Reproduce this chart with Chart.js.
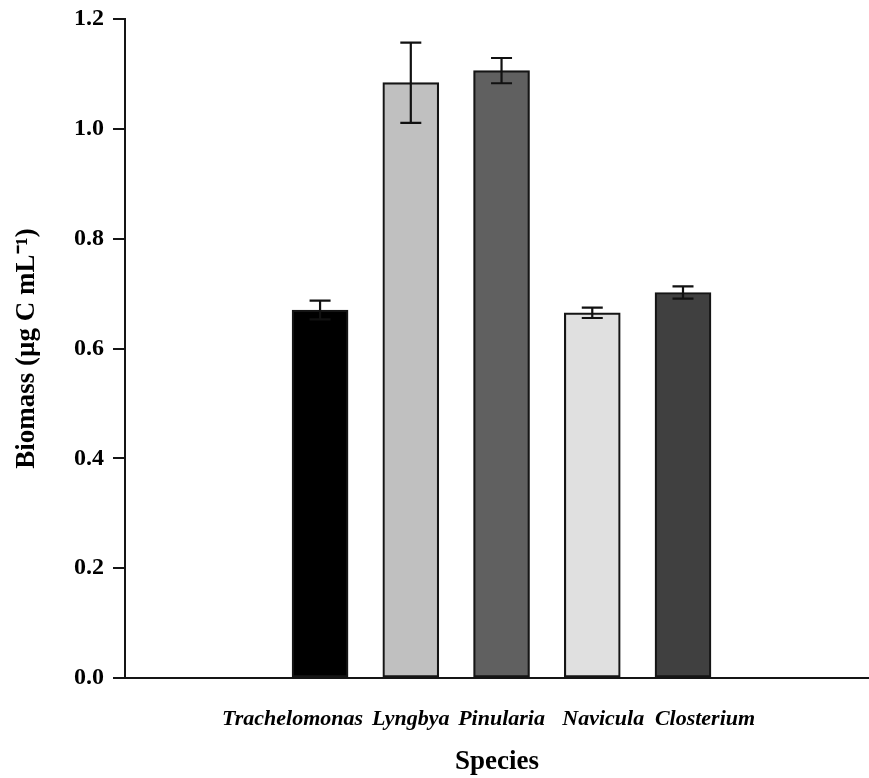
<!DOCTYPE html>
<html>
<head>
<meta charset="utf-8">
<script src="https://cdn.jsdelivr.net/npm/chart.js@4"></script>
<style>
  html, body { margin: 0; padding: 0; background: #fff; }
  #wrap { width: 869px; height: 778px; }
</style>
</head>
<body>
<div id="wrap"><canvas id="biomassChart" width="869" height="778"></canvas></div>
<script>
// species biomass, mean ± error
const SPECIES = ['Trachelomonas', 'Lyngbya', 'Pinularia', 'Navicula', 'Closterium'];
const BIOMASS = [0.670, 1.084, 1.106, 0.665, 0.702];
const ERRORS  = [0.017, 0.073, 0.023, 0.0095, 0.011];
const SLOTS   = [1, 2, 3, 4, 5];
const BAR_COLORS = ['#000000', '#c0c0c0', '#606060', '#e0e0e0', '#404040'];
const Y_TICKS = [0, 0.2, 0.4, 0.6, 0.8, 1.0, 1.2];

Chart.defaults.font.family = "'Liberation Serif', 'Times New Roman', serif";
Chart.defaults.color = '#000';

const EN = '\u2002';
// nudge the species names so they sit like the original row of labels
function speciesLabel(i) {
  const name = SPECIES[i];
  if (i === 0) return name + EN.repeat(5);
  if (i === 3) return EN.repeat(2) + name;
  if (i === 4) return EN.repeat(4) + name;
  return name;
}

// error bars with caps, drawn after the bars
const errorBarPlugin = {
  id: 'errorBars',
  afterDatasetsDraw(chart) {
    const { ctx: c, scales: { x, y } } = chart;
    c.save();
    c.strokeStyle = '#111';
    c.lineWidth = 2.2;
    SLOTS.forEach((s, i) => {
      const px = x.getPixelForValue(s);
      const top = y.getPixelForValue(BIOMASS[i] + ERRORS[i]);
      const bot = y.getPixelForValue(BIOMASS[i] - ERRORS[i]);
      c.beginPath();
      c.moveTo(px, top); c.lineTo(px, bot);
      c.moveTo(px - 10.5, top); c.lineTo(px + 10.5, top);
      c.moveTo(px - 10.5, bot); c.lineTo(px + 10.5, bot);
      c.stroke();
    });
    c.restore();
  }
};

new Chart(document.getElementById('biomassChart'), {
  type: 'bar',
  data: {
    datasets: [{
      data: SLOTS.map((s, i) => ({ x: s, y: BIOMASS[i] })),
      backgroundColor: BAR_COLORS,
      borderColor: '#151515',
      borderWidth: 2.2,
      borderSkipped: false,
      barThickness: 56,
    }]
  },
  plugins: [errorBarPlugin],
  options: {
    responsive: false,
    animation: false,
    layout: { padding: { top: 19, left: 0, right: 0, bottom: 0 } },
    plugins: { legend: { display: false }, tooltip: { enabled: false } },
    scales: {
      x: {
        type: 'linear',
        min: -1.15,
        max: 7.05,
        offset: false,
        afterFit: s => { s.height = 100; },
        afterBuildTicks: s => { s.ticks = SLOTS.map(v => ({ value: v })); },
        grid: { display: false, drawTicks: false },
        border: { display: true, color: '#151515', width: 2 },
        ticks: {
          autoSkip: false,
          maxRotation: 0,
          minRotation: 0,
          padding: 28,
          font: { size: 22, style: 'italic', weight: 'bold' },
          callback: (v, i) => speciesLabel(i)
        },
        title: {
          display: true,
          text: 'Species',
          font: { size: 27, weight: 'bold' },
          padding: { top: 0, bottom: 0 }
        }
      },
      y: {
        min: 0,
        max: 1.2,
        afterFit: s => { s.width = 125; s.paddingTop = 0; s.paddingBottom = 0; },
        afterBuildTicks: s => { s.ticks = Y_TICKS.map(v => ({ value: v })); },
        grid: { display: true, drawOnChartArea: false, drawTicks: true, tickLength: 12, color: '#151515', lineWidth: 2 },
        border: { display: true, color: '#151515', width: 2 },
        ticks: {
          padding: 9,
          font: { size: 24, weight: 'bold' },
          callback: v => v.toFixed(1)
        },
        title: {
          display: true,
          text: 'Biomass (µg C mL\u207B\u00B9)',
          font: { size: 27, weight: 'bold' },
          padding: { top: 11, bottom: 0 }
        }
      }
    }
  }
});
</script>
</body>
</html>
